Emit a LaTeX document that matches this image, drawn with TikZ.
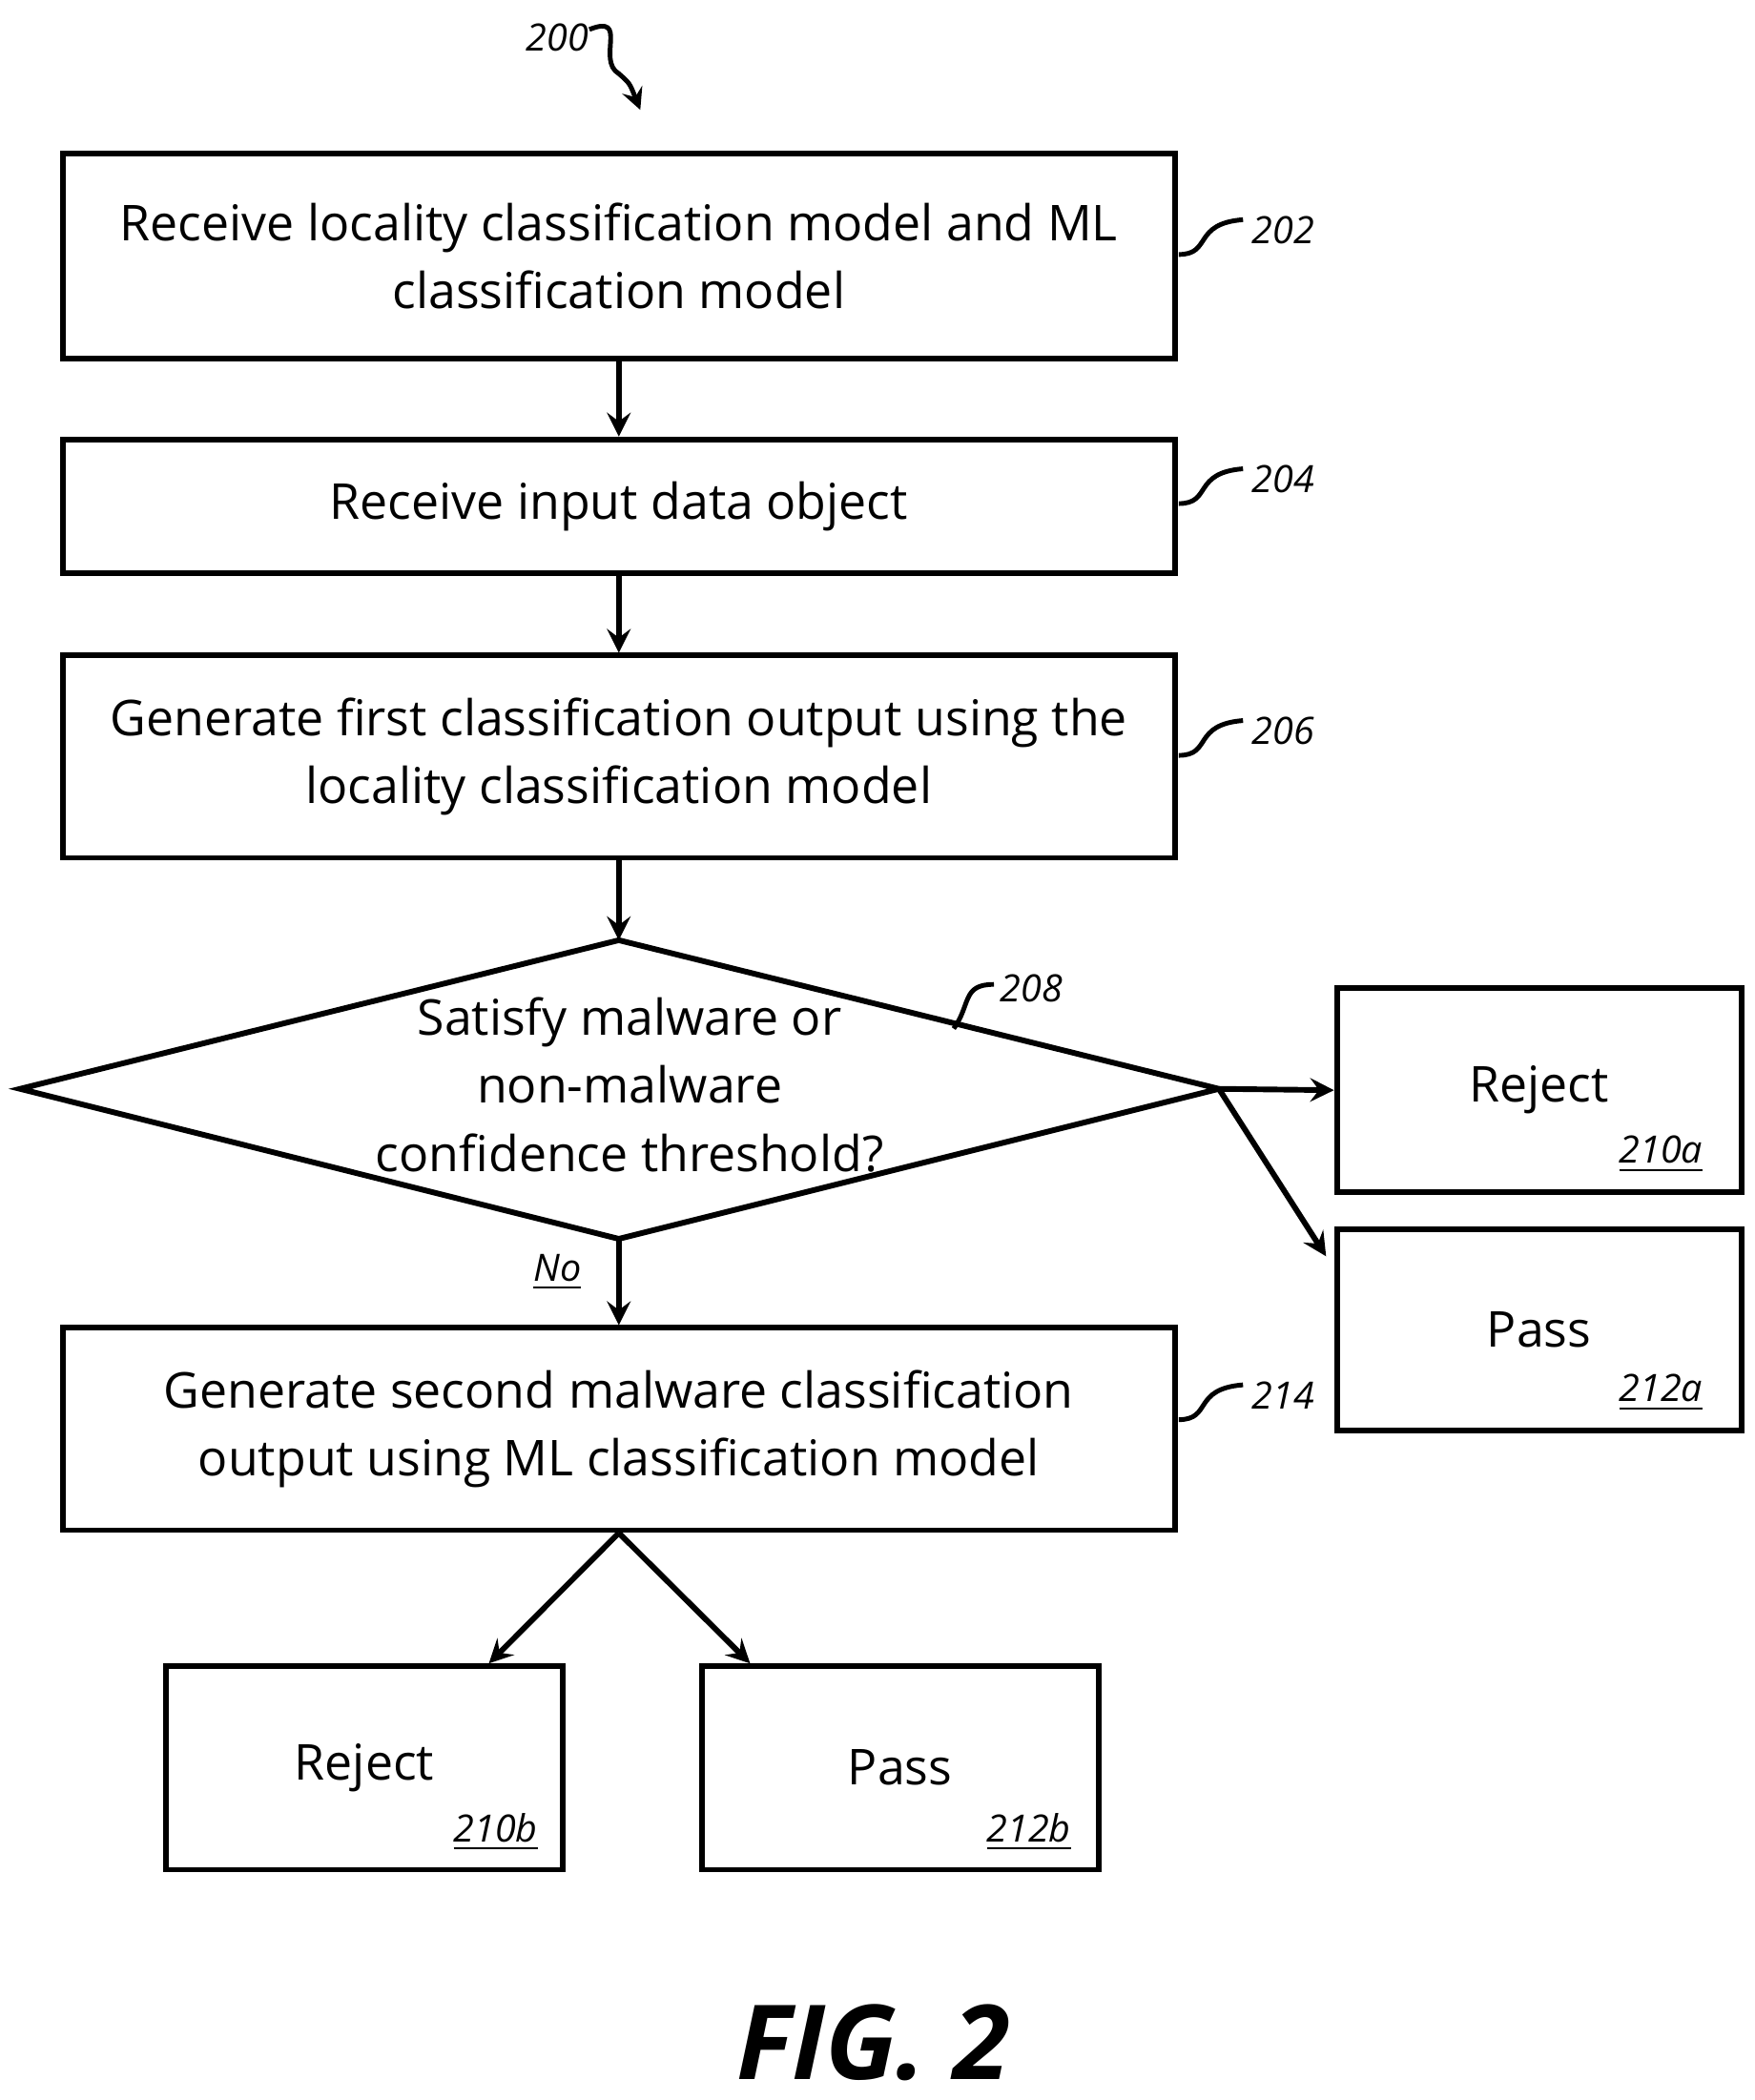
\documentclass[tikz,border=0pt]{standalone}
\usepackage{fontspec}
\setmainfont{Open Sans}
\usetikzlibrary{shapes,arrows}
\tikzstyle{block} = [rectangle, sharp corners, draw, line width=1.2pt, align=center,
                     font=\fontsize{10.5}{14.5}\selectfont\mdseries, inner sep=0pt]
\tikzstyle{ref} = [font=\fontsize{8}{9}\selectfont\itshape]
\tikzstyle{flow} = [draw, line width=1.2pt, -stealth]
\begin{document}
\begin{tikzpicture}[x=0.1mm,y=-0.1mm]
\useasboundingbox (0,0) rectangle (1310,1568);
% boxes
\node[block, minimum width=83mm, minimum height=15.3mm] (recv) at (462,191)
  {Receive locality classification model and ML\\classification model};
\node[block, minimum width=83mm, minimum height=10mm] (input) at (462,378) {Receive input data object};
\node[block, minimum width=83mm, minimum height=15.1mm] (first) at (462,565)
  {Generate first classification output using the\\locality classification model};
\draw[line width=1.2pt] (15,813) -- (462,702) -- (910,813) -- (462,925) -- cycle;
\coordinate (dtop) at (462,702);
\coordinate (dright) at (910,813);
\coordinate (dbot) at (462,925);
\node[font=\fontsize{10.5}{14.5}\selectfont, align=center] (thresh) at (470,810)
  {Satisfy malware or\\non-malware\\confidence threshold?};
\node[block, minimum width=83mm, minimum height=15.1mm] (second) at (462,1067)
  {Generate second malware classification\\output using ML classification model};
% outcomes
\node[block, minimum width=30.2mm, minimum height=15.2mm] (rejA) at (1149,814) {Reject};
\node[block, minimum width=30.2mm, minimum height=15mm] (passA) at (1149,993) {Pass};
\node[block, minimum width=29.6mm, minimum height=15.2mm] (rejB) at (272,1320) {Reject};
\node[block, minimum width=29.6mm, minimum height=15.2mm] (passB) at (672,1320) {Pass};
\node[ref] at (1240,862) {\underline{210a}};
\node[ref] at (1240,1040) {\underline{212a}};
\node[ref] at (370,1368) {\underline{210b}};
\node[ref] at (768,1368) {\underline{212b}};
\node[ref] (no) at (416,950) {\underline{No}};
% connectors
\coordinate (pA) at (990,938);
\coordinate (rB) at (365,1242);
\coordinate (pB) at (560,1242);
\path[flow] (recv) -- (input);
\path[flow] (input) -- (first);
\path[flow] (first) -- (dtop);
\path[flow] (dright) -- (rejA.west);
\path[flow] (dright) -- (pA);
\path[flow] (dbot) -- (second);
\path[flow] (second.south) -- (rB);
\path[flow] (second.south) -- (pB);
% reference numerals
\node[ref] (n200) at (416,28) {200};
\draw[line width=1pt, -stealth] (440,22) .. controls (470,10) and (445,45) .. (462,55) .. controls (470,62) .. (478,82);
\foreach \y/\n in {172/202,358/204,546/206,1042/214} {
  \node[ref] (n\n) at (958,\y) {\n};
  \draw[line width=1pt] (880,\y+18) .. controls (905,\y+18) and (890,\y-5) .. (928,\y-8);
}
\node[ref] (n208) at (770,738) {208};
\draw[line width=1pt] (712,768) .. controls (725,750) and (718,735) .. (742,735);
% title
\node[font=\fontsize{22}{24}\selectfont\bfseries\itshape] (fig) at (652,1525) {FIG. 2};
\end{tikzpicture}
\end{document}
